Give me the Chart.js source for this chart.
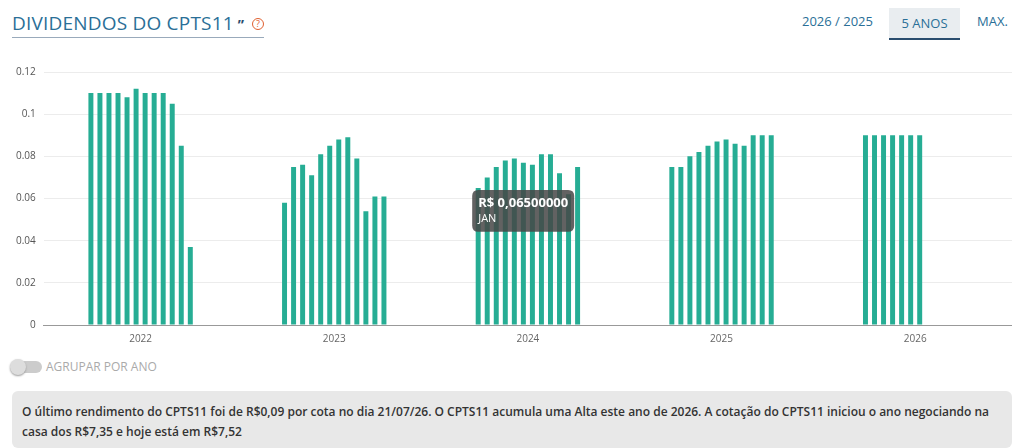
<!DOCTYPE html>
<html lang="pt">
<head>
<meta charset="UTF-8" />
<title>Dividendos CPTS11</title>
<script src="https://cdn.jsdelivr.net/npm/chart.js@4/dist/chart.umd.min.js"></script>
<style>
  body { margin: 0; width: 1024px; height: 448px; background: #fff; font-family: "Open Sans", sans-serif; position: relative; overflow: hidden; }
  #title { position: absolute; left: 12px; top: 10px; font-size: 19px; color: #2a6f97; border-bottom: 1px solid #9ab; padding-bottom: 1px; letter-spacing: 0.2px; }
  #title .q { font-size: 14px; color: #2a4d6e; font-weight: bold; }
  #title .h { display: inline-block; width: 10px; height: 10px; border: 1.5px solid #e06030; border-radius: 50%; font-size: 9px; color: #e06030; text-align: center; line-height: 10px; margin-left: 8px; vertical-align: 3px; }
  .btn { position: absolute; top: 12px; font-size: 13px; color: #2a6f97; }
  #b5 { left: 889px; top: 8px; width: 71px; height: 30px; background: #e9edf0; border-bottom: 2px solid #2a4d6e; text-align: center; line-height: 30px; }
  #wrap { position: absolute; left: 0; top: 58px; width: 1012px; height: 290px; }
  #tog { position: absolute; left: 12px; top: 358px; font-size: 12px; color: #aaa; }
  #tog span.t { display: inline-block; width: 30px; height: 12px; background: #ccc; border-radius: 6px; position: relative; vertical-align: -2px; margin-right: 4px; }
  #tog span.t:after { content: ""; position: absolute; left: -2px; top: -2px; width: 16px; height: 16px; border-radius: 50%; background: #ddd; box-shadow: 0 1px 2px #999; }
  #info { position: absolute; left: 12px; top: 391px; width: 1000px; height: 57px; background: #e8e8e8; border-radius: 6px; font-size: 12px; font-weight: 600; color: #333; padding: 11px 10px 0 10px; box-sizing: border-box; line-height: 20px; }
</style>
</head>
<body>
<div id="title">DIVIDENDOS DO CPTS11<span class="q"> ”</span><span class="h">?</span></div>
<div class="btn" style="left:802px">2026 / 2025</div>
<div class="btn" id="b5">5 ANOS</div>
<div class="btn" style="left:977px">MAX.</div>
<div id="wrap"><canvas id="myChart"></canvas></div>
<div id="tog"><span class="t"></span>AGRUPAR POR ANO</div>
<div id="info">O último rendimento do CPTS11 foi de R$0,09 por cota no dia 21/07/26. O CPTS11 acumula uma Alta este ano de 2026. A cotação do CPTS11 iniciou o ano negociando na casa dos R$7,35 e hoje está em R$7,52</div>
<script>
  const years = ["2022", "2023", "2024", "2025", "2026"];
  const months = ["JAN", "FEV", "MAR", "ABR", "MAI", "JUN", "JUL", "AGO", "SET", "OUT", "NOV", "DEZ"];
  const y2022 = [0.110, 0.110, 0.110, 0.110, 0.108, 0.112, 0.110, 0.110, 0.110, 0.105, 0.085, 0.037];
  const y2023 = [0.058, 0.075, 0.076, 0.071, 0.081, 0.085, 0.088, 0.089, 0.079, 0.054, 0.061, 0.061];
  const y2024 = [0.065, 0.070, 0.075, 0.078, 0.079, 0.077, 0.076, 0.081, 0.081, 0.072, 0.062, 0.075];
  const y2025 = [0.075, 0.075, 0.080, 0.082, 0.085, 0.087, 0.088, 0.086, 0.085, 0.090, 0.090, 0.090];
  const y2026 = [0.090, 0.090, 0.090, 0.090, 0.090, 0.090, 0.090, null, null, null, null, null];
  const yTicks = [0, 0.02, 0.04, 0.06, 0.08, 0.1, 0.12];

  const allYears = [y2022, y2023, y2024, y2025, y2026];
  const datasets = months.map((m, i) => ({
    label: m,
    data: allYears.map((y) => y[i]),
    backgroundColor: "#26ad94",
    hoverBackgroundColor: "#26ad94",
    barPercentage: 0.55,
    categoryPercentage: 0.56,
  }));

  const ctx = document.getElementById("myChart").getContext("2d");
  const myChart = new Chart(ctx, {
    type: "bar",
    data: { labels: years, datasets: datasets },
    options: {
      responsive: true,
      maintainAspectRatio: false,
      animation: false,
      layout: { padding: { top: 6, left: 8 } },
      plugins: {
        legend: { display: false },
        tooltip: {
          displayColors: false,
          caretSize: 0,
          backgroundColor: "rgba(70,70,70,0.85)",
          titleFont: { family: "Open Sans", size: 13, weight: "bold" },
          bodyFont: { family: "Open Sans", size: 11 },
          titleMarginBottom: 1,
          padding: 6,
          xAlign: "left",
          yAlign: "top",
          callbacks: {
            title: (items) => "R$ " + items[0].raw.toFixed(8).replace(".", ","),
            label: (item) => item.dataset.label,
          },
        },
      },
      scales: {
        x: {
          grid: { display: false, tickLength: 5 },
          border: { color: "#999" },
          ticks: { color: "#666", font: { family: "Open Sans", size: 10 } },
        },
        y: {
          min: 0,
          max: 0.12,
          afterBuildTicks: (axis) => { axis.ticks = yTicks.map((v) => ({ value: v })); },
          grid: { color: "#ececec", drawTicks: false },
          border: { display: false },
          ticks: { color: "#555", padding: 8, font: { family: "Open Sans", size: 10 }, callback: (v) => String(v) },
        },
      },
    },
  });
  const el = myChart.getDatasetMeta(0).data[2];
  myChart.tooltip.setActiveElements([{ datasetIndex: 0, index: 2 }], { x: el.x + 31, y: 240 });
  myChart.update();
</script>
</body>
</html>
